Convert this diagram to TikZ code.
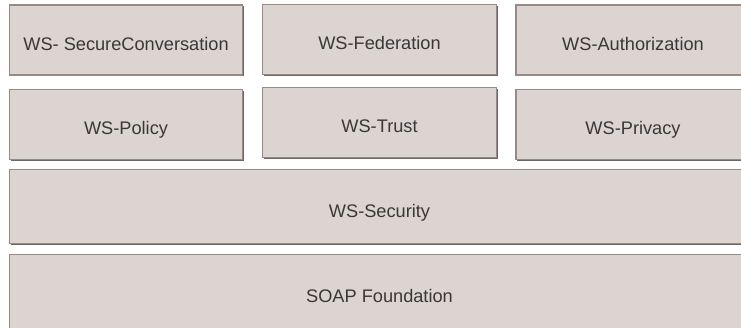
\documentclass[tikz,border=0pt]{standalone}
\usepackage{fontspec}
\setmainfont{Liberation Sans}
\usepackage{tikz}
\usetikzlibrary{positioning,shadows}

\definecolor{layerfill}{HTML}{DBD4D1}
\definecolor{layerline}{HTML}{968B89}
\definecolor{layershadow}{HTML}{6F6562}
\definecolor{layertext}{HTML}{383838}

\begin{document}
\begin{tikzpicture}[x=1pt,y=1pt]
  \tikzset{layer/.style={draw=layerline,line width=1.4pt,fill=layerfill,text=layertext,
      general shadow={fill=layershadow,shadow xshift=1.3pt,shadow yshift=-1.3pt},
      minimum width=#1,minimum height=70pt,inner sep=0pt,
      text height=21pt,text depth=0pt,font=\fontsize{18.2}{20}\selectfont}}
  \useasboundingbox (0,0) rectangle (741,327);

  \node (SC) [layer=233pt] at (126,287) {WS- SecureConversation};
  \node (FED) [layer=234pt] at (379.5,287.5) {WS-Federation};
  \node (AUTH) [layer=234pt] at (633,287) {WS-Authorization};

  \node (POL) [layer=233pt] at (126,202.5) {WS-Policy};
  \node (TR) [layer=234pt] at (379.5,204.5) {WS-Trust};
  \node (PRIV) [layer=234pt] at (633,202.5) {WS-Privacy};

  \node (SEC) [layer=740pt,minimum height=74pt] at (379.5,120.5) {WS-Security};
  \node (SOAP) [layer=740pt,minimum height=74pt] at (379.5,35.5) {SOAP Foundation};
%   \node [below=of SOAP] {};
\end{tikzpicture}
\end{document}
